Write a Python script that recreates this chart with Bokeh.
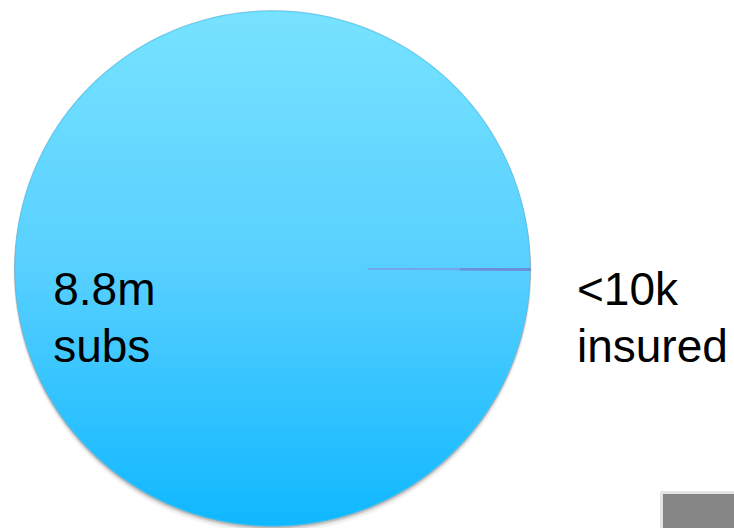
import numpy as np
from bokeh.plotting import figure
from bokeh.models import Range1d
from bokeh.core.properties import value
from bokeh.embed import file_html
from bokeh.resources import INLINE

# ---- data ----
categories = ["subs", "insured"]
values = [8_800_000, 10_000]
labels = ["8.8m\nsubs", "<10k\ninsured"]

# ---- layout ----
W, H = 734, 528
cx, cy, R = 272, H - 268, 258

p = figure(width=W, height=H, output_backend="svg", toolbar_location=None,
           x_axis_location=None, y_axis_location=None, min_border=0,
           x_range=Range1d(0, W), y_range=Range1d(0, H))
p.grid.visible = False
p.outline_line_color = None
p.background_fill_color = "white"

# angles from values (small slice drawn clockwise from 3 o'clock)
total = float(sum(values))
fracs = [v / total for v in values]
small = fracs[1] * 2 * np.pi
starts = [0.0, -small]
ends = [2 * np.pi - small, 0.0]

# shadow
for dy, rr, a in [(5, R + 1, 0.08), (3, R + 0.5, 0.15), (2, R, 0.2)]:
    p.circle(x=[cx], y=[cy - dy], radius=rr, fill_color="#555555",
             fill_alpha=a, line_color=None)

# big slice (base colour)
p.wedge(x=[cx], y=[cy], radius=R, start_angle=[starts[0]], end_angle=[ends[0]],
        fill_color="#45CBFF", line_color="#888888", line_alpha=0.3, line_width=1)

# vertical gradient over the big slice
N = 2 * R
yy, xx = np.mgrid[0:N, 0:N]
dist = np.sqrt((xx + 0.5 - R) ** 2 + (yy + 0.5 - R) ** 2)
alpha = np.clip(R - dist - 0.2, 0, 1)
t = yy / (N - 1)  # 0 bottom, 1 top
top = np.array([0x78, 0xE3, 0xFF])
mid = np.array([0x58, 0xD0, 0xFF])
bot = np.array([0x10, 0xB8, 0xFF])
col = np.where(t[..., None] > 0.5,
               mid + (top - mid) * ((t[..., None] - 0.5) * 2),
               bot + (mid - bot) * (t[..., None] * 2))
img = np.zeros((N, N), dtype=np.uint32)
view = img.view(dtype=np.uint8).reshape((N, N, 4))
view[..., 0] = col[..., 0].astype(np.uint8)
view[..., 1] = col[..., 1].astype(np.uint8)
view[..., 2] = col[..., 2].astype(np.uint8)
view[..., 3] = (alpha * 255).astype(np.uint8)
p.image_rgba(image=[img], x=cx - R, y=cy - R, dw=N, dh=N)

# small slice
p.annular_wedge(x=[cx], y=[cy], inner_radius=0.37 * R, outer_radius=R,
                start_angle=[starts[1]], end_angle=[ends[1]],
                fill_color="#74A6E6", line_color="#74A6E6", line_width=1)
p.annular_wedge(x=[cx], y=[cy], inner_radius=0.73 * R, outer_radius=R,
                start_angle=[starts[1]], end_angle=[ends[1]],
                fill_color="#6A8FD6", line_color="#6A8FD6", line_width=1.2)

# labels
font = value("Liberation Sans")
p.text(x=[cx - 0.85 * R], y=[H - 262], text=[labels[0]], text_font=font,
       text_font_size="46px", text_color="black", text_baseline="top",
       text_align="left", text_line_height=1.1)
p.text(x=[cx + 1.18 * R], y=[H - 262], text=[labels[1]], text_font=font,
       text_font_size="46px", text_color="black", text_baseline="top",
       text_align="left", text_line_height=1.1)

# grey box bottom right
p.quad(left=[661], right=[740], bottom=[-10], top=[H - 492],
       fill_color="#858585", line_color="#E4E4E4", line_width=3)

open("out.html", "w").write(file_html(p, INLINE))
